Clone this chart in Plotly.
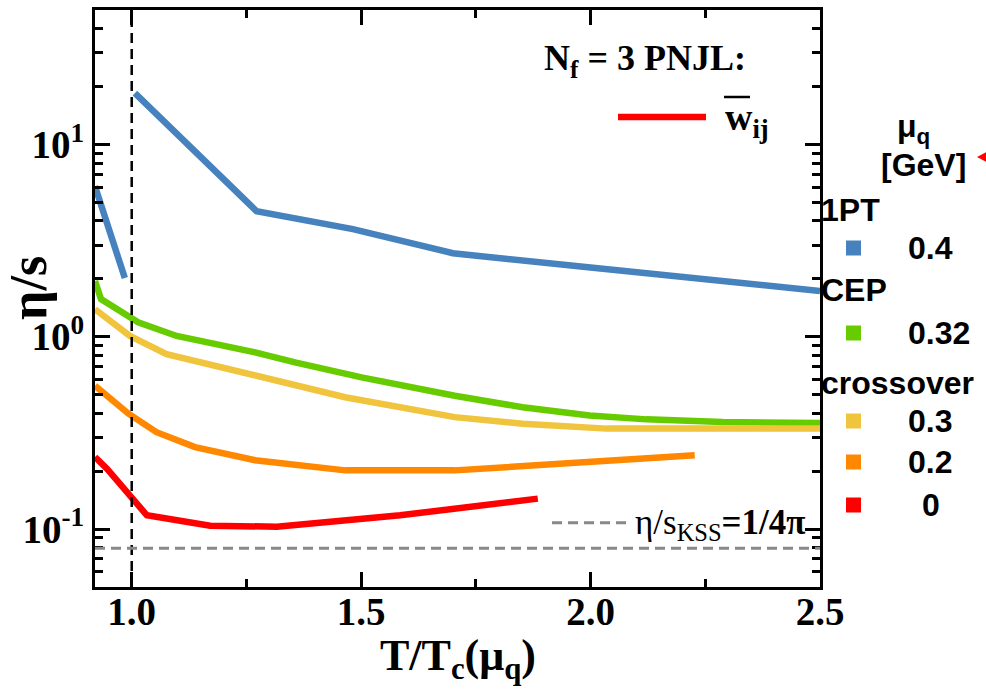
import numpy as np
import plotly.graph_objects as go

# ---------------- data ----------------
blue_a_x = [0.92, 0.985]
blue_a_y = [6.06, 2.02]
blue_b_x = [1.007, 1.272, 1.482, 1.700, 2.0, 2.5]
blue_b_y = [18.5, 4.50, 3.63, 2.72, 2.29, 1.73]

green_x = [0.92, 0.933, 1.014, 1.098, 1.269, 1.356, 1.501, 1.704, 1.852, 1.998, 2.122, 2.288, 2.5]
green_y = [1.95, 1.57, 1.19, 1.01, 0.83, 0.736, 0.615, 0.494, 0.430, 0.390, 0.372, 0.360, 0.356]

yellow_x = [0.92, 0.996, 1.076, 1.269, 1.465, 1.704, 1.852, 2.035, 2.5]
yellow_y = [1.39, 1.01, 0.813, 0.628, 0.485, 0.382, 0.353, 0.333, 0.333]

orange_x = [0.92, 0.993, 1.054, 1.138, 1.269, 1.465, 1.704, 1.890, 2.227]
orange_y = [0.557, 0.398, 0.319, 0.267, 0.228, 0.202, 0.202, 0.215, 0.242]

red_x = [0.92, 0.946, 1.033, 1.171, 1.316, 1.585, 1.885]
red_y = [0.237, 0.206, 0.118, 0.104, 0.103, 0.118, 0.144]

KSS = 1.0 / (4.0 * np.pi)
TC_LINE = 1.0

x_ticks = [1.0, 1.5, 2.0, 2.5]
x_ticktext = ["1.0", "1.5", "2.0", "2.5"]
x_minor = [1.25, 1.75, 2.25]
y_ticks = [0.1, 1, 10]
y_ticktext = ["10<sup>-1</sup>", "10<sup>0</sup>", "10<sup>1</sup>"]
y_minor = [0.05, 0.06, 0.07, 0.08, 0.09, 0.2, 0.3, 0.4, 0.5, 0.6, 0.7, 0.8, 0.9,
           2, 3, 4, 5, 6, 7, 8, 9, 20, 30, 40, 50]

legend_groups = ["1PT", "CEP", "crossover"]
legend_values = ["0.4", "0.32", "0.3", "0.2", "0"]

BLUE = "#4682BE"
GREEN = "#66CC00"
YELLOW = "#F0C43C"
ORANGE = "#FF8800"
RED = "#FF0000"

# ---------------- figure ----------------
fig = go.Figure()
LW = 6.5
for xs, ys, c in [(blue_a_x, blue_a_y, BLUE), (blue_b_x, blue_b_y, BLUE),
                  (green_x, green_y, GREEN), (yellow_x, yellow_y, YELLOW),
                  (orange_x, orange_y, ORANGE), (red_x, red_y, RED)]:
    fig.add_trace(go.Scatter(x=xs, y=ys, mode="lines",
                             line=dict(color=c, width=LW), showlegend=False,
                             hoverinfo="skip"))

W, H = 986, 692
ML, MR, MT, MB = 95, 166, 10, 105
PW, PH = W - ML - MR, H - MT - MB


def px(xp):
    return (xp - ML) / PW


def py(yp):
    return (H - MB - yp) / PH


serif = "Liberation Serif"
sans = "Liberation Sans"

axis_common = dict(showline=True, linewidth=3, linecolor="black", mirror="allticks",
                   ticks="inside", ticklen=15, tickwidth=3, tickcolor="black",
                   showgrid=False, zeroline=False, automargin=False,
                   tickfont=dict(family=serif, size=39, color="black", weight="bold"))

fig.update_xaxes(range=[0.92, 2.5], tickmode="array", tickvals=x_ticks, ticktext=x_ticktext,
                 ticklabelstandoff=-12,
                 minor=dict(tickmode="array", tickvals=x_minor, ticks="inside", ticklen=8,
                            tickwidth=2.5, tickcolor="black", showgrid=False),
                 **axis_common)
fig.update_yaxes(type="log", range=[np.log10(0.05), np.log10(50)], tickmode="array",
                 tickvals=y_ticks, ticktext=y_ticktext,
                 minor=dict(tickmode="array", tickvals=y_minor, ticks="inside", ticklen=8,
                            tickwidth=2.5, tickcolor="black", showgrid=False),
                 **axis_common)

shapes = []
# vertical dashed line at T = Tc
shapes.append(dict(type="line", xref="x", yref="paper", x0=TC_LINE, x1=TC_LINE, y0=0, y1=1,
                   line=dict(color="black", width=2.5, dash="10px,6px")))
# KSS bound
shapes.append(dict(type="line", xref="paper", yref="y", x0=0, x1=1, y0=KSS, y1=KSS,
                   line=dict(color="#888888", width=3, dash="10px,6px")))
# KSS key line
shapes.append(dict(type="line", xref="paper", yref="paper", x0=px(552), x1=px(627),
                   y0=py(522.7), y1=py(522.7),
                   line=dict(color="#888888", width=3, dash="10px,6px")))
# red key line
shapes.append(dict(type="line", xref="paper", yref="paper", x0=px(618), x1=px(706),
                   y0=py(117), y1=py(117), line=dict(color=RED, width=6.5)))
# overline on w
shapes.append(dict(type="line", xref="paper", yref="paper", x0=px(724), x1=px(750),
                   y0=py(97), y1=py(97), line=dict(color="black", width=2.5)))

# legend squares
sq_colors = [BLUE, GREEN, YELLOW, ORANGE, RED]
sq_y = [248, 333, 421, 462, 505]
for c, yy in zip(sq_colors, sq_y):
    shapes.append(dict(type="rect", xref="paper", yref="paper",
                       x0=px(846), x1=px(861), y0=py(yy + 7.5), y1=py(yy - 7.5),
                       fillcolor=c, line=dict(width=0)))
# red triangle at right edge
shapes.append(dict(type="path", xref="paper", yref="paper",
                   path=f"M {px(977)} {py(157)} L {px(990)} {py(150)} L {px(990)} {py(164)} Z",
                   fillcolor=RED, line=dict(width=0)))

ann = []
ann.append(dict(text="N<sub>f</sub> = 3 PNJL:", xref="paper", yref="paper", x=px(748), y=py(60),
                xanchor="right", yanchor="middle", showarrow=False,
                font=dict(family=serif, size=36, color="black", weight="bold")))
ann.append(dict(text="w<sub>ij</sub>", xref="paper", yref="paper", x=px(723), y=py(120),
                xanchor="left", yanchor="middle", showarrow=False,
                font=dict(family=serif, size=38, color="black", weight="bold")))
ann.append(dict(text="η/s<sub>KSS</sub><b>=1/4π</b>", xref="paper", yref="paper", x=px(633), y=py(524),
                xanchor="left", yanchor="middle", showarrow=False,
                font=dict(family=serif, size=35, color="black")))
# axis titles
ann.append(dict(text="<b>η/s</b>", xref="paper", yref="paper", x=px(28), y=py(288),
                xanchor="center", yanchor="middle", textangle=-90, showarrow=False,
                font=dict(family=serif, size=52, color="black")))
ann.append(dict(text="<b>T/T<sub>c</sub>(μ<sub>q</sub>)</b>", xref="paper", yref="paper", x=0.5, y=py(658),
                xanchor="center", yanchor="middle", showarrow=False,
                font=dict(family=serif, size=44, color="black")))
# legend text
lf = dict(family=sans, size=32, color="black", weight="bold")
ann.append(dict(text="μ<sub>q</sub>", xref="paper", yref="paper", x=px(913), y=py(128),
                xanchor="center", yanchor="middle", showarrow=False, font=lf))
ann.append(dict(text="[GeV]", xref="paper", yref="paper", x=px(923), y=py(165),
                xanchor="center", yanchor="middle", showarrow=False, font=lf))
for g, yy in zip(legend_groups, [210, 290, 383]):
    ann.append(dict(text=g, xref="paper", yref="paper", x=px(819), y=py(yy),
                    xanchor="left", yanchor="middle", showarrow=False, font=lf))
for v, yy in zip(legend_values, sq_y):
    xl = 906 if v != "0" else 920
    ann.append(dict(text=v, xref="paper", yref="paper", x=px(xl), y=py(yy),
                    xanchor="left", yanchor="middle", showarrow=False, font=lf))

fig.update_layout(width=W, height=H, margin=dict(l=ML, r=MR, t=MT, b=MB),
                  plot_bgcolor="white", paper_bgcolor="white", showlegend=False,
                  shapes=shapes, annotations=ann)

fig.write_html("out.html", config={"displayModeBar": False},
               post_script="document.body.style.margin='0';document.body.style.overflow='hidden';")
